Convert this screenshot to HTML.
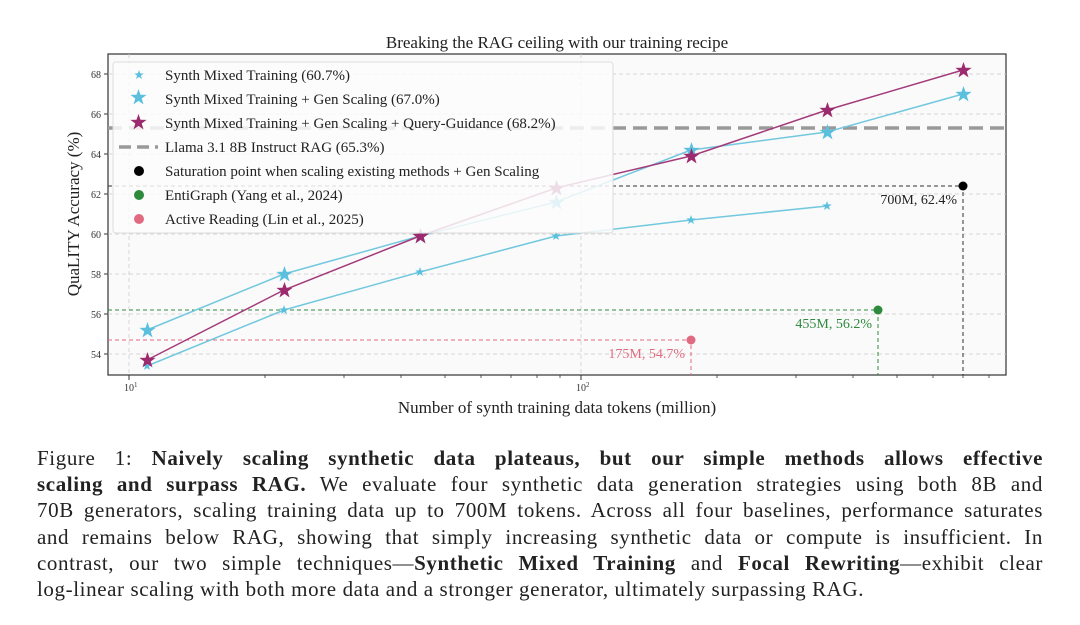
<!DOCTYPE html>
<html><head><meta charset="utf-8"><style>
body{margin:0;width:1080px;height:625px;background:#fff;overflow:hidden;font-family:"Liberation Serif",serif}
.cap{position:absolute;left:37px;top:445px;width:1006px;font-size:21px;line-height:26.2px;color:#222;letter-spacing:0.6px}
.cap div{text-align:justify;text-align-last:justify;white-space:nowrap}
.cap div.l{text-align-last:left}
.cap b{font-weight:bold}
</style></head><body>
<svg width="1080" height="440" style="position:absolute;left:0;top:0" font-family="Liberation Serif, serif">
<defs>
<symbol id="st" viewBox="-1 -1 2 2"><polygon points="0,-1 0.235,-0.324 0.951,-0.309 0.38,0.124 0.588,0.809 0,0.4 -0.588,0.809 -0.38,0.124 -0.951,-0.309 -0.235,-0.324"/></symbol>
</defs>
<rect x="108" y="54" width="898" height="321" fill="#fafafa" stroke="#333" stroke-width="1.2"/>
<g stroke="#ccc" stroke-width="0.8" stroke-dasharray="4,3">
<line x1="108" x2="1006" y1="74" y2="74"/><line x1="108" x2="1006" y1="114" y2="114"/><line x1="108" x2="1006" y1="154" y2="154"/><line x1="108" x2="1006" y1="194" y2="194"/><line x1="108" x2="1006" y1="234" y2="234"/><line x1="108" x2="1006" y1="274" y2="274"/><line x1="108" x2="1006" y1="314" y2="314"/><line x1="108" x2="1006" y1="354" y2="354"/>
<line x1="129" x2="129" y1="54" y2="375"/><line x1="581" x2="581" y1="54" y2="375"/>
</g>
<g font-size="10" fill="#333" text-anchor="end">
<text x="101" y="78">68</text><text x="101" y="118">66</text><text x="101" y="158">64</text><text x="101" y="198">62</text><text x="101" y="238">60</text><text x="101" y="278">58</text><text x="101" y="318">56</text><text x="101" y="358">54</text>
</g>
<g stroke="#333" stroke-width="1">
<line x1="104" x2="108" y1="74" y2="74"/><line x1="104" x2="108" y1="114" y2="114"/><line x1="104" x2="108" y1="154" y2="154"/><line x1="104" x2="108" y1="194" y2="194"/><line x1="104" x2="108" y1="234" y2="234"/><line x1="104" x2="108" y1="274" y2="274"/><line x1="104" x2="108" y1="314" y2="314"/><line x1="104" x2="108" y1="354" y2="354"/>
<line x1="129" x2="129" y1="375" y2="380"/><line x1="581" x2="581" y1="375" y2="380"/>
<g stroke-width="0.8"><line x1="265" x2="265" y1="375" y2="378"/><line x1="344" x2="344" y1="375" y2="378"/><line x1="401" x2="401" y1="375" y2="378"/><line x1="445" x2="445" y1="375" y2="378"/><line x1="481" x2="481" y1="375" y2="378"/><line x1="511" x2="511" y1="375" y2="378"/><line x1="537" x2="537" y1="375" y2="378"/><line x1="560" x2="560" y1="375" y2="378"/><line x1="717" x2="717" y1="375" y2="378"/><line x1="796" x2="796" y1="375" y2="378"/><line x1="853" x2="853" y1="375" y2="378"/><line x1="897" x2="897" y1="375" y2="378"/><line x1="933" x2="933" y1="375" y2="378"/><line x1="963" x2="963" y1="375" y2="378"/><line x1="989" x2="989" y1="375" y2="378"/></g>
</g>
<text x="124" y="391" font-size="10" fill="#333">10<tspan font-size="7" dy="-4">1</tspan></text>
<text x="576" y="391" font-size="10" fill="#333">10<tspan font-size="7" dy="-4">2</tspan></text>
<text x="557" y="413" font-size="17" text-anchor="middle" fill="#222">Number of synth training data tokens (million)</text>
<text transform="translate(79,214) rotate(-90)" font-size="17" text-anchor="middle" fill="#222">QuaLITY Accuracy (%)</text>
<text x="557" y="48" font-size="17" text-anchor="middle" fill="#222">Breaking the RAG ceiling with our training recipe</text>
<line x1="108" x2="1006" y1="128" y2="128" stroke="#999" stroke-width="3.5" stroke-dasharray="14,7"/>
<g stroke-width="1" stroke-dasharray="4,3">
<polyline points="108,186 963,186 963,375" fill="none" stroke="#333"/>
<polyline points="108,310 878,310 878,375" fill="none" stroke="#2e8b3e"/>
<polyline points="108,340 691,340 691,375" fill="none" stroke="#e06b80"/>
</g>
<circle cx="963" cy="186" r="4.5" fill="#000"/>
<circle cx="878" cy="310" r="4.5" fill="#2e8b3e"/>
<circle cx="691" cy="340" r="4.5" fill="#e06b80"/>
<text x="957" y="204" font-size="14" text-anchor="end" fill="#222">700M, 62.4%</text>
<text x="872" y="328" font-size="14" text-anchor="end" fill="#2e8b3e">455M, 56.2%</text>
<text x="685" y="358" font-size="14" text-anchor="end" fill="#e06b80">175M, 54.7%</text>
<polyline fill="none" stroke="#72c8de" stroke-width="1.5" points="147,366 284,310 420,272 556,236 691,220 827,206"/>
<g fill="#5bc0de"><use href="#st" x="142" y="361" width="10" height="10"/><use href="#st" x="279" y="305" width="10" height="10"/><use href="#st" x="415" y="267" width="10" height="10"/><use href="#st" x="551" y="231" width="10" height="10"/><use href="#st" x="686" y="215" width="10" height="10"/><use href="#st" x="822" y="201" width="10" height="10"/></g>
<polyline fill="none" stroke="#72c8de" stroke-width="1.5" points="147,330 284,274 420,236 556,202 691,150 827,132 963,94"/>
<g fill="#5bc0de"><use href="#st" x="139" y="322" width="17" height="17"/><use href="#st" x="276" y="266" width="17" height="17"/><use href="#st" x="412" y="228" width="17" height="17"/><use href="#st" x="548" y="194" width="17" height="17"/><use href="#st" x="683" y="142" width="17" height="17"/><use href="#st" x="819" y="124" width="17" height="17"/><use href="#st" x="955" y="86" width="17" height="17"/></g>
<polyline fill="none" stroke="#a33a7a" stroke-width="1.5" points="147,360 284,290 420,236 556,188 691,156 827,110 963,70"/>
<g fill="#9c2a6e"><use href="#st" x="139" y="352" width="17" height="17"/><use href="#st" x="276" y="282" width="17" height="17"/><use href="#st" x="412" y="228" width="17" height="17"/><use href="#st" x="548" y="180" width="17" height="17"/><use href="#st" x="683" y="148" width="17" height="17"/><use href="#st" x="819" y="102" width="17" height="17"/><use href="#st" x="955" y="62" width="17" height="17"/></g>
<rect x="113" y="62" width="500" height="171" rx="3" fill="#fbfbfb" fill-opacity="0.85" stroke="#ddd"/>
<use href="#st" x="134" y="70" width="10" height="10" fill="#5bc0de"/>
<use href="#st" x="130" y="89" width="17" height="17" fill="#5bc0de"/>
<use href="#st" x="130" y="114" width="17" height="17" fill="#9c2a6e"/>
<line x1="119" x2="158" y1="147" y2="147" stroke="#999" stroke-width="3.5" stroke-dasharray="12,6"/>
<circle cx="139" cy="171" r="5" fill="#000"/>
<circle cx="139" cy="195" r="5" fill="#2e8b3e"/>
<circle cx="139" cy="219" r="5" fill="#e06b80"/>
<g font-size="15" fill="#222">
<text x="165" y="80">Synth Mixed Training (60.7%)</text>
<text x="165" y="104">Synth Mixed Training + Gen Scaling (67.0%)</text>
<text x="165" y="128">Synth Mixed Training + Gen Scaling + Query-Guidance (68.2%)</text>
<text x="165" y="152">Llama 3.1 8B Instruct RAG (65.3%)</text>
<text x="165" y="176">Saturation point when scaling existing methods + Gen Scaling</text>
<text x="165" y="200">EntiGraph (Yang et al., 2024)</text>
<text x="165" y="224">Active Reading (Lin et al., 2025)</text>
</g>
</svg>
<div class="cap">
<div>Figure 1: <b>Naively scaling synthetic data plateaus, but our simple methods allows effective</b></div>
<div><b>scaling and surpass RAG.</b> We evaluate four synthetic data generation strategies using both 8B and</div>
<div>70B generators, scaling training data up to 700M tokens. Across all four baselines, performance saturates</div>
<div>and remains below RAG, showing that simply increasing synthetic data or compute is insufficient. In</div>
<div>contrast, our two simple techniques—<b>Synthetic Mixed Training</b> and <b>Focal Rewriting</b>—exhibit clear</div>
<div class="l">log-linear scaling with both more data and a stronger generator, ultimately surpassing RAG.</div>
</div>
</body></html>
